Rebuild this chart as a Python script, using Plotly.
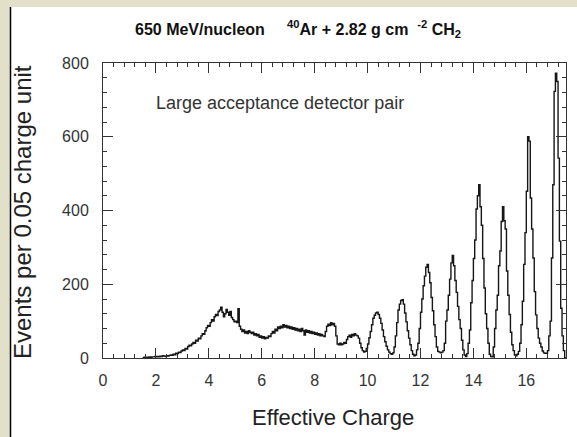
import numpy as np
import plotly.graph_objects as go

# Histogram: counts per 0.05 charge unit, bins start at Z = 1.50
bin_start = 1.50
bin_width = 0.05

counts_low = [  # 1.50 - 4.95
    1, 2, 1, 2, 2, 3, 2, 3, 3, 4,
    3, 4, 3, 5, 4, 6, 5, 4, 6, 5, 7, 8, 7, 10, 9, 13, 12, 16, 15, 19,
    22, 20, 26, 24, 31, 35, 33, 38, 42, 40, 48, 46, 54, 52, 60, 66, 64, 74, 82, 88,
    86, 96, 104, 100, 112, 118, 115, 126, 130, 138, 124, 112, 120, 132, 124, 116, 126, 110, 104, 98,
]
counts_mid = [  # 5.00 - 9.95
    100, 96, 134, 86, 78, 72, 76, 68, 72, 66, 74, 70, 66, 70, 62, 66, 60, 64, 56, 60,
    54, 58, 52, 56, 54, 60, 58, 66, 72, 68, 78, 74, 84, 80, 86, 82, 90, 84, 88, 82,
    86, 80, 84, 78, 82, 76, 80, 74, 78, 72, 80, 74, 62, 76, 70, 74, 68, 72, 66, 70,
    64, 68, 62, 66, 60, 64, 60, 58, 72, 86, 92, 88, 96, 90, 94, 86, 60, 38, 36, 40,
    36, 38, 42, 40, 50, 58, 62, 56, 64, 60, 66, 62, 60, 54, 40, 28, 20, 16, 18, 26,
]
counts_peaks = [  # 10.00 - 17.45
    38, 55, 72, 90, 108, 116, 122, 124, 118, 108, 94, 76, 58, 44, 32, 22, 16, 12, 10, 14,
    30, 60, 96, 130, 146, 156, 158, 146, 122, 98, 74, 54, 36, 20, 10, 6, 8, 22, 40, 80,
    124, 160, 196, 222, 246, 254, 232, 204, 164, 128, 90, 58, 30, 18, 16, 14, 16, 20, 40, 100,
    130, 170, 214, 258, 278, 250, 210, 178, 140, 104, 80, 48, 22, 8, 4, 12, 40, 76, 150, 210,
    270, 320, 404, 440, 470, 410, 360, 270, 190, 120, 80, 40, 10, 4, 3, 30, 80, 130, 170, 250,
    290, 370, 410, 372, 350, 236, 170, 118, 70, 36, 20, 8, 6, 10, 18, 40, 90, 154, 254, 340,
    452, 600, 588, 434, 350, 271, 180, 117, 80, 54, 40, 30, 19, 14, 13, 13, 20, 60, 100, 271,
    470, 723, 772, 750, 542, 317, 135, 60, 20, 0,
]

x_ticks = [0, 2, 4, 6, 8, 10, 12, 14, 16]
y_ticks = [0, 200, 400, 600, 800]

counts = counts_low + counts_mid + counts_peaks
n = len(counts)
edges = bin_start + bin_width * np.arange(n + 1)
y_step = counts + [counts[-1]]

FONT = "Arial, Liberation Sans, sans-serif"
fig = go.Figure()
fig.add_trace(go.Scatter(
    x=edges, y=y_step, mode="lines", line_shape="hv",
    line=dict(color="#161616", width=1.4), showlegend=False, hoverinfo="skip",
))

W, H = 577, 437
L, R, T, B = 103, 566, 63, 358
pw, ph = R - L, B - T

def px(xp):
    return (xp - L) / pw

def py(yp):
    return (B - yp) / ph

shapes = [
    dict(type="rect", xref="paper", yref="paper", x0=px(0), x1=px(10), y0=py(437), y1=py(0),
         fillcolor="#e3e0c9", line=dict(width=0), layer="below"),
    dict(type="rect", xref="paper", yref="paper", x0=px(0), x1=px(577), y0=py(7), y1=py(0),
         fillcolor="#e3e0c9", line=dict(width=0), layer="below"),
    dict(type="line", xref="paper", yref="paper", x0=px(10.5), x1=px(10.5), y0=py(437), y1=py(7),
         line=dict(color="#000000", width=1.5)),
]

axis_common = dict(
    showgrid=False, zeroline=False, showline=True, linecolor="#333333", linewidth=1,
    mirror="allticks", ticks="inside", ticklen=10, tickcolor="#333333", tickwidth=1,
    tickfont=dict(family=FONT, size=16, color="#333333"), automargin=False,
)

fig.update_layout(
    width=W, height=H,
    margin=dict(l=L, r=W - R, t=T, b=H - B),
    paper_bgcolor="white", plot_bgcolor="white",
    shapes=shapes,
    hovermode=False,
    xaxis=dict(range=[0, 17.5], tickvals=x_ticks, ticklabelstandoff=8,
               minor=dict(dtick=0.4, tick0=0, ticks="inside", ticklen=4, tickcolor="#333333"),
               **axis_common),
    yaxis=dict(range=[0, 800], tickvals=y_ticks, ticklabelstandoff=10,
               minor=dict(dtick=40, tick0=0, ticks="inside", ticklen=4, tickcolor="#333333"),
               **axis_common),
    annotations=[
        dict(text="<b>650 MeV/nucleon     <sup>40</sup>Ar + 2.82 g cm  <sup>-2</sup> CH<sub>2</sub></b>",
             xref="paper", yref="paper", x=px(298), y=py(29), xanchor="center", yanchor="middle",
             showarrow=False, font=dict(family=FONT, size=16, color="#111111")),
        dict(text="Large acceptance detector pair", xref="paper", yref="paper",
             x=px(154), y=py(103), xanchor="left", yanchor="middle", showarrow=False,
             font=dict(family=FONT, size=18, color="#333333")),
        dict(text="Events per 0.05 charge unit", xref="paper", yref="paper",
             x=px(22), y=py(212), xanchor="center", yanchor="middle", textangle=-90, showarrow=False,
             font=dict(family=FONT, size=24, color="#222222")),
        dict(text="Effective Charge", xref="paper", yref="paper",
             x=px(333), y=py(418), xanchor="center", yanchor="middle", showarrow=False,
             font=dict(family=FONT, size=22, color="#222222")),
    ],
)

fig.write_html("out.html", config={"displayModeBar": False},
               post_script="document.body.style.margin='0';")
